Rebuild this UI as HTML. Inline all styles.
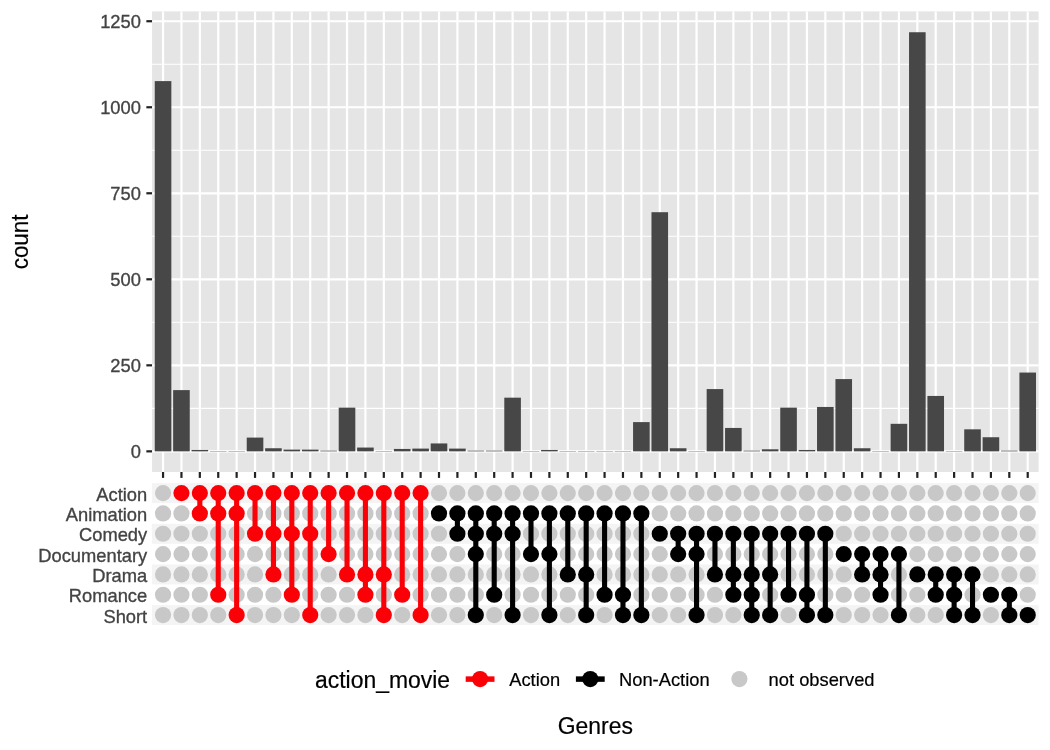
<!DOCTYPE html>
<html lang="en"><head><meta charset="utf-8"><title>Genres</title>
<style>html,body{margin:0;padding:0;background:#fff}svg{display:block}text{font-family:"Liberation Sans",Arial,Helvetica,sans-serif}</style></head><body>
<svg width="1050" height="750" viewBox="0 0 1050 750">
<rect width="1050" height="750" fill="#fff"/>
<rect x="152.05" y="11.4" width="886.55" height="460.6" fill="#E5E5E5"/>
<g stroke="#FFFFFF" stroke-width="1.1">
<line x1="152.05" x2="1038.6" y1="408.34" y2="408.34"/>
<line x1="152.05" x2="1038.6" y1="322.31" y2="322.31"/>
<line x1="152.05" x2="1038.6" y1="236.29" y2="236.29"/>
<line x1="152.05" x2="1038.6" y1="150.26" y2="150.26"/>
<line x1="152.05" x2="1038.6" y1="64.24" y2="64.24"/>
</g>
<g stroke="#FFFFFF" stroke-width="2.2">
<line x1="152.05" x2="1038.6" y1="451.35" y2="451.35"/>
<line x1="152.05" x2="1038.6" y1="365.33" y2="365.33"/>
<line x1="152.05" x2="1038.6" y1="279.3" y2="279.3"/>
<line x1="152.05" x2="1038.6" y1="193.28" y2="193.28"/>
<line x1="152.05" x2="1038.6" y1="107.25" y2="107.25"/>
<line x1="152.05" x2="1038.6" y1="21.23" y2="21.23"/>
<line x1="163.05" x2="163.05" y1="11.4" y2="472"/>
<line x1="181.45" x2="181.45" y1="11.4" y2="472"/>
<line x1="199.84" x2="199.84" y1="11.4" y2="472"/>
<line x1="218.24" x2="218.24" y1="11.4" y2="472"/>
<line x1="236.64" x2="236.64" y1="11.4" y2="472"/>
<line x1="255.03" x2="255.03" y1="11.4" y2="472"/>
<line x1="273.43" x2="273.43" y1="11.4" y2="472"/>
<line x1="291.83" x2="291.83" y1="11.4" y2="472"/>
<line x1="310.23" x2="310.23" y1="11.4" y2="472"/>
<line x1="328.62" x2="328.62" y1="11.4" y2="472"/>
<line x1="347.02" x2="347.02" y1="11.4" y2="472"/>
<line x1="365.42" x2="365.42" y1="11.4" y2="472"/>
<line x1="383.81" x2="383.81" y1="11.4" y2="472"/>
<line x1="402.21" x2="402.21" y1="11.4" y2="472"/>
<line x1="420.61" x2="420.61" y1="11.4" y2="472"/>
<line x1="439" x2="439" y1="11.4" y2="472"/>
<line x1="457.4" x2="457.4" y1="11.4" y2="472"/>
<line x1="475.8" x2="475.8" y1="11.4" y2="472"/>
<line x1="494.2" x2="494.2" y1="11.4" y2="472"/>
<line x1="512.59" x2="512.59" y1="11.4" y2="472"/>
<line x1="530.99" x2="530.99" y1="11.4" y2="472"/>
<line x1="549.39" x2="549.39" y1="11.4" y2="472"/>
<line x1="567.78" x2="567.78" y1="11.4" y2="472"/>
<line x1="586.18" x2="586.18" y1="11.4" y2="472"/>
<line x1="604.58" x2="604.58" y1="11.4" y2="472"/>
<line x1="622.97" x2="622.97" y1="11.4" y2="472"/>
<line x1="641.37" x2="641.37" y1="11.4" y2="472"/>
<line x1="659.77" x2="659.77" y1="11.4" y2="472"/>
<line x1="678.17" x2="678.17" y1="11.4" y2="472"/>
<line x1="696.56" x2="696.56" y1="11.4" y2="472"/>
<line x1="714.96" x2="714.96" y1="11.4" y2="472"/>
<line x1="733.36" x2="733.36" y1="11.4" y2="472"/>
<line x1="751.75" x2="751.75" y1="11.4" y2="472"/>
<line x1="770.15" x2="770.15" y1="11.4" y2="472"/>
<line x1="788.55" x2="788.55" y1="11.4" y2="472"/>
<line x1="806.94" x2="806.94" y1="11.4" y2="472"/>
<line x1="825.34" x2="825.34" y1="11.4" y2="472"/>
<line x1="843.74" x2="843.74" y1="11.4" y2="472"/>
<line x1="862.14" x2="862.14" y1="11.4" y2="472"/>
<line x1="880.53" x2="880.53" y1="11.4" y2="472"/>
<line x1="898.93" x2="898.93" y1="11.4" y2="472"/>
<line x1="917.33" x2="917.33" y1="11.4" y2="472"/>
<line x1="935.72" x2="935.72" y1="11.4" y2="472"/>
<line x1="954.12" x2="954.12" y1="11.4" y2="472"/>
<line x1="972.52" x2="972.52" y1="11.4" y2="472"/>
<line x1="990.91" x2="990.91" y1="11.4" y2="472"/>
<line x1="1009.31" x2="1009.31" y1="11.4" y2="472"/>
<line x1="1027.71" x2="1027.71" y1="11.4" y2="472"/>
</g>
<g fill="#474747">
<rect x="154.75" y="81.1" width="16.6" height="370.25"/>
<rect x="173.15" y="390.1" width="16.6" height="61.25"/>
<rect x="191.54" y="449.97" width="16.6" height="1.38"/>
<rect x="209.94" y="451.01" width="16.6" height="0.34"/>
<rect x="228.34" y="451.01" width="16.6" height="0.34"/>
<rect x="246.73" y="437.59" width="16.6" height="13.76"/>
<rect x="265.13" y="448.25" width="16.6" height="3.1"/>
<rect x="283.53" y="449.63" width="16.6" height="1.72"/>
<rect x="301.93" y="449.63" width="16.6" height="1.72"/>
<rect x="320.32" y="450.66" width="16.6" height="0.69"/>
<rect x="338.72" y="407.65" width="16.6" height="43.7"/>
<rect x="357.12" y="447.56" width="16.6" height="3.79"/>
<rect x="375.51" y="451.01" width="16.6" height="0.34"/>
<rect x="393.91" y="448.94" width="16.6" height="2.41"/>
<rect x="412.31" y="448.6" width="16.6" height="2.75"/>
<rect x="430.7" y="443.44" width="16.6" height="7.91"/>
<rect x="449.1" y="448.6" width="16.6" height="2.75"/>
<rect x="467.5" y="450.66" width="16.6" height="0.69"/>
<rect x="485.9" y="450.66" width="16.6" height="0.69"/>
<rect x="504.29" y="397.67" width="16.6" height="53.68"/>
<rect x="522.69" y="451.01" width="16.6" height="0.34"/>
<rect x="541.09" y="449.97" width="16.6" height="1.38"/>
<rect x="559.48" y="451.01" width="16.6" height="0.34"/>
<rect x="577.88" y="451.01" width="16.6" height="0.34"/>
<rect x="596.28" y="451.01" width="16.6" height="0.34"/>
<rect x="614.67" y="451.01" width="16.6" height="0.34"/>
<rect x="633.07" y="422.1" width="16.6" height="29.25"/>
<rect x="651.47" y="212.2" width="16.6" height="239.15"/>
<rect x="669.87" y="448.25" width="16.6" height="3.1"/>
<rect x="688.26" y="451.01" width="16.6" height="0.34"/>
<rect x="706.66" y="389.07" width="16.6" height="62.28"/>
<rect x="725.06" y="427.95" width="16.6" height="23.4"/>
<rect x="743.45" y="450.66" width="16.6" height="0.69"/>
<rect x="761.85" y="449.29" width="16.6" height="2.06"/>
<rect x="780.25" y="407.65" width="16.6" height="43.7"/>
<rect x="798.64" y="449.97" width="16.6" height="1.38"/>
<rect x="817.04" y="406.96" width="16.6" height="44.39"/>
<rect x="835.44" y="379.09" width="16.6" height="72.26"/>
<rect x="853.84" y="448.25" width="16.6" height="3.1"/>
<rect x="872.23" y="451.01" width="16.6" height="0.34"/>
<rect x="890.63" y="423.82" width="16.6" height="27.53"/>
<rect x="909.03" y="32.24" width="16.6" height="419.11"/>
<rect x="927.42" y="395.95" width="16.6" height="55.4"/>
<rect x="945.82" y="451.01" width="16.6" height="0.34"/>
<rect x="964.22" y="429.33" width="16.6" height="22.02"/>
<rect x="982.62" y="437.24" width="16.6" height="14.11"/>
<rect x="1001.01" y="450.66" width="16.6" height="0.69"/>
<rect x="1019.41" y="372.55" width="16.6" height="78.8"/>
</g>
<g stroke="#222222" stroke-width="2.2">
<line x1="146.35" x2="152.05" y1="451.35" y2="451.35"/>
<line x1="146.35" x2="152.05" y1="365.33" y2="365.33"/>
<line x1="146.35" x2="152.05" y1="279.3" y2="279.3"/>
<line x1="146.35" x2="152.05" y1="193.28" y2="193.28"/>
<line x1="146.35" x2="152.05" y1="107.25" y2="107.25"/>
<line x1="146.35" x2="152.05" y1="21.23" y2="21.23"/>
<line x1="163.05" x2="163.05" y1="472" y2="477.9"/>
<line x1="181.45" x2="181.45" y1="472" y2="477.9"/>
<line x1="199.84" x2="199.84" y1="472" y2="477.9"/>
<line x1="218.24" x2="218.24" y1="472" y2="477.9"/>
<line x1="236.64" x2="236.64" y1="472" y2="477.9"/>
<line x1="255.03" x2="255.03" y1="472" y2="477.9"/>
<line x1="273.43" x2="273.43" y1="472" y2="477.9"/>
<line x1="291.83" x2="291.83" y1="472" y2="477.9"/>
<line x1="310.23" x2="310.23" y1="472" y2="477.9"/>
<line x1="328.62" x2="328.62" y1="472" y2="477.9"/>
<line x1="347.02" x2="347.02" y1="472" y2="477.9"/>
<line x1="365.42" x2="365.42" y1="472" y2="477.9"/>
<line x1="383.81" x2="383.81" y1="472" y2="477.9"/>
<line x1="402.21" x2="402.21" y1="472" y2="477.9"/>
<line x1="420.61" x2="420.61" y1="472" y2="477.9"/>
<line x1="439" x2="439" y1="472" y2="477.9"/>
<line x1="457.4" x2="457.4" y1="472" y2="477.9"/>
<line x1="475.8" x2="475.8" y1="472" y2="477.9"/>
<line x1="494.2" x2="494.2" y1="472" y2="477.9"/>
<line x1="512.59" x2="512.59" y1="472" y2="477.9"/>
<line x1="530.99" x2="530.99" y1="472" y2="477.9"/>
<line x1="549.39" x2="549.39" y1="472" y2="477.9"/>
<line x1="567.78" x2="567.78" y1="472" y2="477.9"/>
<line x1="586.18" x2="586.18" y1="472" y2="477.9"/>
<line x1="604.58" x2="604.58" y1="472" y2="477.9"/>
<line x1="622.97" x2="622.97" y1="472" y2="477.9"/>
<line x1="641.37" x2="641.37" y1="472" y2="477.9"/>
<line x1="659.77" x2="659.77" y1="472" y2="477.9"/>
<line x1="678.17" x2="678.17" y1="472" y2="477.9"/>
<line x1="696.56" x2="696.56" y1="472" y2="477.9"/>
<line x1="714.96" x2="714.96" y1="472" y2="477.9"/>
<line x1="733.36" x2="733.36" y1="472" y2="477.9"/>
<line x1="751.75" x2="751.75" y1="472" y2="477.9"/>
<line x1="770.15" x2="770.15" y1="472" y2="477.9"/>
<line x1="788.55" x2="788.55" y1="472" y2="477.9"/>
<line x1="806.94" x2="806.94" y1="472" y2="477.9"/>
<line x1="825.34" x2="825.34" y1="472" y2="477.9"/>
<line x1="843.74" x2="843.74" y1="472" y2="477.9"/>
<line x1="862.14" x2="862.14" y1="472" y2="477.9"/>
<line x1="880.53" x2="880.53" y1="472" y2="477.9"/>
<line x1="898.93" x2="898.93" y1="472" y2="477.9"/>
<line x1="917.33" x2="917.33" y1="472" y2="477.9"/>
<line x1="935.72" x2="935.72" y1="472" y2="477.9"/>
<line x1="954.12" x2="954.12" y1="472" y2="477.9"/>
<line x1="972.52" x2="972.52" y1="472" y2="477.9"/>
<line x1="990.91" x2="990.91" y1="472" y2="477.9"/>
<line x1="1009.31" x2="1009.31" y1="472" y2="477.9"/>
<line x1="1027.71" x2="1027.71" y1="472" y2="477.9"/>
</g>
<g fill="#434343" stroke="#434343" stroke-width="0.32" font-size="18.33" text-anchor="end">
<text transform="translate(140.9,457.95) scale(1,1.045)">0</text>
<text transform="translate(140.9,371.93) scale(1,1.045)">250</text>
<text transform="translate(140.9,285.9) scale(1,1.045)">500</text>
<text transform="translate(140.9,199.88) scale(1,1.045)">750</text>
<text transform="translate(140.9,113.85) scale(1,1.045)">1000</text>
<text transform="translate(140.9,27.83) scale(1,1.045)">1250</text>
<text transform="translate(147.2,500.51) scale(1,1.045)">Action</text>
<text transform="translate(147.2,520.84) scale(1,1.045)">Animation</text>
<text transform="translate(147.2,541.17) scale(1,1.045)">Comedy</text>
<text transform="translate(147.2,561.5) scale(1,1.045)">Documentary</text>
<text transform="translate(147.2,581.83) scale(1,1.045)">Drama</text>
<text transform="translate(147.2,602.16) scale(1,1.045)">Romance</text>
<text transform="translate(147.2,622.5) scale(1,1.045)">Short</text>
</g>
<text transform="translate(28,241.9) rotate(-90) scale(0.977,1.045)" font-size="22.92" text-anchor="middle" fill="#000" stroke="#000" stroke-width="0.2">count</text>
<text transform="translate(595.3,733.9) scale(1,1.045)" font-size="22.92" text-anchor="middle" fill="#000" stroke="#000" stroke-width="0.2">Genres</text>
<g fill="#F4F4F4">
<rect x="152.05" y="483.12" width="886.55" height="20"/>
<rect x="152.05" y="523.77" width="886.55" height="20"/>
<rect x="152.05" y="564.43" width="886.55" height="20"/>
<rect x="152.05" y="605.1" width="886.55" height="20"/>
</g>
<g fill="#C8C8C8">
<circle cx="163.05" cy="493.12" r="8.1"/>
<circle cx="163.05" cy="513.44" r="8.1"/>
<circle cx="163.05" cy="533.77" r="8.1"/>
<circle cx="163.05" cy="554.11" r="8.1"/>
<circle cx="163.05" cy="574.43" r="8.1"/>
<circle cx="163.05" cy="594.76" r="8.1"/>
<circle cx="163.05" cy="615.1" r="8.1"/>
<circle cx="181.45" cy="513.44" r="8.1"/>
<circle cx="181.45" cy="533.77" r="8.1"/>
<circle cx="181.45" cy="554.11" r="8.1"/>
<circle cx="181.45" cy="574.43" r="8.1"/>
<circle cx="181.45" cy="594.76" r="8.1"/>
<circle cx="181.45" cy="615.1" r="8.1"/>
<circle cx="199.84" cy="533.77" r="8.1"/>
<circle cx="199.84" cy="554.11" r="8.1"/>
<circle cx="199.84" cy="574.43" r="8.1"/>
<circle cx="199.84" cy="594.76" r="8.1"/>
<circle cx="199.84" cy="615.1" r="8.1"/>
<circle cx="218.24" cy="533.77" r="8.1"/>
<circle cx="218.24" cy="554.11" r="8.1"/>
<circle cx="218.24" cy="574.43" r="8.1"/>
<circle cx="218.24" cy="615.1" r="8.1"/>
<circle cx="236.64" cy="533.77" r="8.1"/>
<circle cx="236.64" cy="554.11" r="8.1"/>
<circle cx="236.64" cy="574.43" r="8.1"/>
<circle cx="236.64" cy="594.76" r="8.1"/>
<circle cx="255.03" cy="513.44" r="8.1"/>
<circle cx="255.03" cy="554.11" r="8.1"/>
<circle cx="255.03" cy="574.43" r="8.1"/>
<circle cx="255.03" cy="594.76" r="8.1"/>
<circle cx="255.03" cy="615.1" r="8.1"/>
<circle cx="273.43" cy="513.44" r="8.1"/>
<circle cx="273.43" cy="554.11" r="8.1"/>
<circle cx="273.43" cy="594.76" r="8.1"/>
<circle cx="273.43" cy="615.1" r="8.1"/>
<circle cx="291.83" cy="513.44" r="8.1"/>
<circle cx="291.83" cy="554.11" r="8.1"/>
<circle cx="291.83" cy="574.43" r="8.1"/>
<circle cx="291.83" cy="615.1" r="8.1"/>
<circle cx="310.23" cy="513.44" r="8.1"/>
<circle cx="310.23" cy="554.11" r="8.1"/>
<circle cx="310.23" cy="574.43" r="8.1"/>
<circle cx="310.23" cy="594.76" r="8.1"/>
<circle cx="328.62" cy="513.44" r="8.1"/>
<circle cx="328.62" cy="533.77" r="8.1"/>
<circle cx="328.62" cy="574.43" r="8.1"/>
<circle cx="328.62" cy="594.76" r="8.1"/>
<circle cx="328.62" cy="615.1" r="8.1"/>
<circle cx="347.02" cy="513.44" r="8.1"/>
<circle cx="347.02" cy="533.77" r="8.1"/>
<circle cx="347.02" cy="554.11" r="8.1"/>
<circle cx="347.02" cy="594.76" r="8.1"/>
<circle cx="347.02" cy="615.1" r="8.1"/>
<circle cx="365.42" cy="513.44" r="8.1"/>
<circle cx="365.42" cy="533.77" r="8.1"/>
<circle cx="365.42" cy="554.11" r="8.1"/>
<circle cx="365.42" cy="615.1" r="8.1"/>
<circle cx="383.81" cy="513.44" r="8.1"/>
<circle cx="383.81" cy="533.77" r="8.1"/>
<circle cx="383.81" cy="554.11" r="8.1"/>
<circle cx="383.81" cy="594.76" r="8.1"/>
<circle cx="402.21" cy="513.44" r="8.1"/>
<circle cx="402.21" cy="533.77" r="8.1"/>
<circle cx="402.21" cy="554.11" r="8.1"/>
<circle cx="402.21" cy="574.43" r="8.1"/>
<circle cx="402.21" cy="615.1" r="8.1"/>
<circle cx="420.61" cy="513.44" r="8.1"/>
<circle cx="420.61" cy="533.77" r="8.1"/>
<circle cx="420.61" cy="554.11" r="8.1"/>
<circle cx="420.61" cy="574.43" r="8.1"/>
<circle cx="420.61" cy="594.76" r="8.1"/>
<circle cx="439" cy="493.12" r="8.1"/>
<circle cx="439" cy="533.77" r="8.1"/>
<circle cx="439" cy="554.11" r="8.1"/>
<circle cx="439" cy="574.43" r="8.1"/>
<circle cx="439" cy="594.76" r="8.1"/>
<circle cx="439" cy="615.1" r="8.1"/>
<circle cx="457.4" cy="493.12" r="8.1"/>
<circle cx="457.4" cy="554.11" r="8.1"/>
<circle cx="457.4" cy="574.43" r="8.1"/>
<circle cx="457.4" cy="594.76" r="8.1"/>
<circle cx="457.4" cy="615.1" r="8.1"/>
<circle cx="475.8" cy="493.12" r="8.1"/>
<circle cx="475.8" cy="574.43" r="8.1"/>
<circle cx="475.8" cy="594.76" r="8.1"/>
<circle cx="494.2" cy="493.12" r="8.1"/>
<circle cx="494.2" cy="554.11" r="8.1"/>
<circle cx="494.2" cy="574.43" r="8.1"/>
<circle cx="494.2" cy="615.1" r="8.1"/>
<circle cx="512.59" cy="493.12" r="8.1"/>
<circle cx="512.59" cy="554.11" r="8.1"/>
<circle cx="512.59" cy="574.43" r="8.1"/>
<circle cx="512.59" cy="594.76" r="8.1"/>
<circle cx="530.99" cy="493.12" r="8.1"/>
<circle cx="530.99" cy="533.77" r="8.1"/>
<circle cx="530.99" cy="574.43" r="8.1"/>
<circle cx="530.99" cy="594.76" r="8.1"/>
<circle cx="530.99" cy="615.1" r="8.1"/>
<circle cx="549.39" cy="493.12" r="8.1"/>
<circle cx="549.39" cy="533.77" r="8.1"/>
<circle cx="549.39" cy="574.43" r="8.1"/>
<circle cx="549.39" cy="594.76" r="8.1"/>
<circle cx="567.78" cy="493.12" r="8.1"/>
<circle cx="567.78" cy="533.77" r="8.1"/>
<circle cx="567.78" cy="554.11" r="8.1"/>
<circle cx="567.78" cy="594.76" r="8.1"/>
<circle cx="567.78" cy="615.1" r="8.1"/>
<circle cx="586.18" cy="493.12" r="8.1"/>
<circle cx="586.18" cy="533.77" r="8.1"/>
<circle cx="586.18" cy="554.11" r="8.1"/>
<circle cx="586.18" cy="594.76" r="8.1"/>
<circle cx="604.58" cy="493.12" r="8.1"/>
<circle cx="604.58" cy="533.77" r="8.1"/>
<circle cx="604.58" cy="554.11" r="8.1"/>
<circle cx="604.58" cy="574.43" r="8.1"/>
<circle cx="604.58" cy="615.1" r="8.1"/>
<circle cx="622.97" cy="493.12" r="8.1"/>
<circle cx="622.97" cy="533.77" r="8.1"/>
<circle cx="622.97" cy="554.11" r="8.1"/>
<circle cx="622.97" cy="574.43" r="8.1"/>
<circle cx="641.37" cy="493.12" r="8.1"/>
<circle cx="641.37" cy="533.77" r="8.1"/>
<circle cx="641.37" cy="554.11" r="8.1"/>
<circle cx="641.37" cy="574.43" r="8.1"/>
<circle cx="641.37" cy="594.76" r="8.1"/>
<circle cx="659.77" cy="493.12" r="8.1"/>
<circle cx="659.77" cy="513.44" r="8.1"/>
<circle cx="659.77" cy="554.11" r="8.1"/>
<circle cx="659.77" cy="574.43" r="8.1"/>
<circle cx="659.77" cy="594.76" r="8.1"/>
<circle cx="659.77" cy="615.1" r="8.1"/>
<circle cx="678.17" cy="493.12" r="8.1"/>
<circle cx="678.17" cy="513.44" r="8.1"/>
<circle cx="678.17" cy="574.43" r="8.1"/>
<circle cx="678.17" cy="594.76" r="8.1"/>
<circle cx="678.17" cy="615.1" r="8.1"/>
<circle cx="696.56" cy="493.12" r="8.1"/>
<circle cx="696.56" cy="513.44" r="8.1"/>
<circle cx="696.56" cy="574.43" r="8.1"/>
<circle cx="696.56" cy="594.76" r="8.1"/>
<circle cx="714.96" cy="493.12" r="8.1"/>
<circle cx="714.96" cy="513.44" r="8.1"/>
<circle cx="714.96" cy="554.11" r="8.1"/>
<circle cx="714.96" cy="594.76" r="8.1"/>
<circle cx="714.96" cy="615.1" r="8.1"/>
<circle cx="733.36" cy="493.12" r="8.1"/>
<circle cx="733.36" cy="513.44" r="8.1"/>
<circle cx="733.36" cy="554.11" r="8.1"/>
<circle cx="733.36" cy="615.1" r="8.1"/>
<circle cx="751.75" cy="493.12" r="8.1"/>
<circle cx="751.75" cy="513.44" r="8.1"/>
<circle cx="751.75" cy="554.11" r="8.1"/>
<circle cx="770.15" cy="493.12" r="8.1"/>
<circle cx="770.15" cy="513.44" r="8.1"/>
<circle cx="770.15" cy="554.11" r="8.1"/>
<circle cx="770.15" cy="594.76" r="8.1"/>
<circle cx="788.55" cy="493.12" r="8.1"/>
<circle cx="788.55" cy="513.44" r="8.1"/>
<circle cx="788.55" cy="554.11" r="8.1"/>
<circle cx="788.55" cy="574.43" r="8.1"/>
<circle cx="788.55" cy="615.1" r="8.1"/>
<circle cx="806.94" cy="493.12" r="8.1"/>
<circle cx="806.94" cy="513.44" r="8.1"/>
<circle cx="806.94" cy="554.11" r="8.1"/>
<circle cx="806.94" cy="574.43" r="8.1"/>
<circle cx="825.34" cy="493.12" r="8.1"/>
<circle cx="825.34" cy="513.44" r="8.1"/>
<circle cx="825.34" cy="554.11" r="8.1"/>
<circle cx="825.34" cy="574.43" r="8.1"/>
<circle cx="825.34" cy="594.76" r="8.1"/>
<circle cx="843.74" cy="493.12" r="8.1"/>
<circle cx="843.74" cy="513.44" r="8.1"/>
<circle cx="843.74" cy="533.77" r="8.1"/>
<circle cx="843.74" cy="574.43" r="8.1"/>
<circle cx="843.74" cy="594.76" r="8.1"/>
<circle cx="843.74" cy="615.1" r="8.1"/>
<circle cx="862.14" cy="493.12" r="8.1"/>
<circle cx="862.14" cy="513.44" r="8.1"/>
<circle cx="862.14" cy="533.77" r="8.1"/>
<circle cx="862.14" cy="594.76" r="8.1"/>
<circle cx="862.14" cy="615.1" r="8.1"/>
<circle cx="880.53" cy="493.12" r="8.1"/>
<circle cx="880.53" cy="513.44" r="8.1"/>
<circle cx="880.53" cy="533.77" r="8.1"/>
<circle cx="880.53" cy="615.1" r="8.1"/>
<circle cx="898.93" cy="493.12" r="8.1"/>
<circle cx="898.93" cy="513.44" r="8.1"/>
<circle cx="898.93" cy="533.77" r="8.1"/>
<circle cx="898.93" cy="574.43" r="8.1"/>
<circle cx="898.93" cy="594.76" r="8.1"/>
<circle cx="917.33" cy="493.12" r="8.1"/>
<circle cx="917.33" cy="513.44" r="8.1"/>
<circle cx="917.33" cy="533.77" r="8.1"/>
<circle cx="917.33" cy="554.11" r="8.1"/>
<circle cx="917.33" cy="594.76" r="8.1"/>
<circle cx="917.33" cy="615.1" r="8.1"/>
<circle cx="935.72" cy="493.12" r="8.1"/>
<circle cx="935.72" cy="513.44" r="8.1"/>
<circle cx="935.72" cy="533.77" r="8.1"/>
<circle cx="935.72" cy="554.11" r="8.1"/>
<circle cx="935.72" cy="615.1" r="8.1"/>
<circle cx="954.12" cy="493.12" r="8.1"/>
<circle cx="954.12" cy="513.44" r="8.1"/>
<circle cx="954.12" cy="533.77" r="8.1"/>
<circle cx="954.12" cy="554.11" r="8.1"/>
<circle cx="972.52" cy="493.12" r="8.1"/>
<circle cx="972.52" cy="513.44" r="8.1"/>
<circle cx="972.52" cy="533.77" r="8.1"/>
<circle cx="972.52" cy="554.11" r="8.1"/>
<circle cx="972.52" cy="594.76" r="8.1"/>
<circle cx="990.91" cy="493.12" r="8.1"/>
<circle cx="990.91" cy="513.44" r="8.1"/>
<circle cx="990.91" cy="533.77" r="8.1"/>
<circle cx="990.91" cy="554.11" r="8.1"/>
<circle cx="990.91" cy="574.43" r="8.1"/>
<circle cx="990.91" cy="615.1" r="8.1"/>
<circle cx="1009.31" cy="493.12" r="8.1"/>
<circle cx="1009.31" cy="513.44" r="8.1"/>
<circle cx="1009.31" cy="533.77" r="8.1"/>
<circle cx="1009.31" cy="554.11" r="8.1"/>
<circle cx="1009.31" cy="574.43" r="8.1"/>
<circle cx="1027.71" cy="493.12" r="8.1"/>
<circle cx="1027.71" cy="513.44" r="8.1"/>
<circle cx="1027.71" cy="533.77" r="8.1"/>
<circle cx="1027.71" cy="554.11" r="8.1"/>
<circle cx="1027.71" cy="574.43" r="8.1"/>
<circle cx="1027.71" cy="594.76" r="8.1"/>
</g>
<g fill="#FA0007" stroke="#FA0007" stroke-width="5.1">
<circle cx="181.45" cy="493.12" r="8.1" stroke="none"/>
<line x1="199.84" x2="199.84" y1="493.12" y2="513.44"/>
<circle cx="199.84" cy="493.12" r="8.1" stroke="none"/>
<circle cx="199.84" cy="513.44" r="8.1" stroke="none"/>
<line x1="218.24" x2="218.24" y1="493.12" y2="594.76"/>
<circle cx="218.24" cy="493.12" r="8.1" stroke="none"/>
<circle cx="218.24" cy="513.44" r="8.1" stroke="none"/>
<circle cx="218.24" cy="594.76" r="8.1" stroke="none"/>
<line x1="236.64" x2="236.64" y1="493.12" y2="615.1"/>
<circle cx="236.64" cy="493.12" r="8.1" stroke="none"/>
<circle cx="236.64" cy="513.44" r="8.1" stroke="none"/>
<circle cx="236.64" cy="615.1" r="8.1" stroke="none"/>
<line x1="255.03" x2="255.03" y1="493.12" y2="533.77"/>
<circle cx="255.03" cy="493.12" r="8.1" stroke="none"/>
<circle cx="255.03" cy="533.77" r="8.1" stroke="none"/>
<line x1="273.43" x2="273.43" y1="493.12" y2="574.43"/>
<circle cx="273.43" cy="493.12" r="8.1" stroke="none"/>
<circle cx="273.43" cy="533.77" r="8.1" stroke="none"/>
<circle cx="273.43" cy="574.43" r="8.1" stroke="none"/>
<line x1="291.83" x2="291.83" y1="493.12" y2="594.76"/>
<circle cx="291.83" cy="493.12" r="8.1" stroke="none"/>
<circle cx="291.83" cy="533.77" r="8.1" stroke="none"/>
<circle cx="291.83" cy="594.76" r="8.1" stroke="none"/>
<line x1="310.23" x2="310.23" y1="493.12" y2="615.1"/>
<circle cx="310.23" cy="493.12" r="8.1" stroke="none"/>
<circle cx="310.23" cy="533.77" r="8.1" stroke="none"/>
<circle cx="310.23" cy="615.1" r="8.1" stroke="none"/>
<line x1="328.62" x2="328.62" y1="493.12" y2="554.11"/>
<circle cx="328.62" cy="493.12" r="8.1" stroke="none"/>
<circle cx="328.62" cy="554.11" r="8.1" stroke="none"/>
<line x1="347.02" x2="347.02" y1="493.12" y2="574.43"/>
<circle cx="347.02" cy="493.12" r="8.1" stroke="none"/>
<circle cx="347.02" cy="574.43" r="8.1" stroke="none"/>
<line x1="365.42" x2="365.42" y1="493.12" y2="594.76"/>
<circle cx="365.42" cy="493.12" r="8.1" stroke="none"/>
<circle cx="365.42" cy="574.43" r="8.1" stroke="none"/>
<circle cx="365.42" cy="594.76" r="8.1" stroke="none"/>
<line x1="383.81" x2="383.81" y1="493.12" y2="615.1"/>
<circle cx="383.81" cy="493.12" r="8.1" stroke="none"/>
<circle cx="383.81" cy="574.43" r="8.1" stroke="none"/>
<circle cx="383.81" cy="615.1" r="8.1" stroke="none"/>
<line x1="402.21" x2="402.21" y1="493.12" y2="594.76"/>
<circle cx="402.21" cy="493.12" r="8.1" stroke="none"/>
<circle cx="402.21" cy="594.76" r="8.1" stroke="none"/>
<line x1="420.61" x2="420.61" y1="493.12" y2="615.1"/>
<circle cx="420.61" cy="493.12" r="8.1" stroke="none"/>
<circle cx="420.61" cy="615.1" r="8.1" stroke="none"/>
</g>
<g fill="#000000" stroke="#000000" stroke-width="5.1">
<circle cx="439" cy="513.44" r="8.1" stroke="none"/>
<line x1="457.4" x2="457.4" y1="513.44" y2="533.77"/>
<circle cx="457.4" cy="513.44" r="8.1" stroke="none"/>
<circle cx="457.4" cy="533.77" r="8.1" stroke="none"/>
<line x1="475.8" x2="475.8" y1="513.44" y2="615.1"/>
<circle cx="475.8" cy="513.44" r="8.1" stroke="none"/>
<circle cx="475.8" cy="533.77" r="8.1" stroke="none"/>
<circle cx="475.8" cy="554.11" r="8.1" stroke="none"/>
<circle cx="475.8" cy="615.1" r="8.1" stroke="none"/>
<line x1="494.2" x2="494.2" y1="513.44" y2="594.76"/>
<circle cx="494.2" cy="513.44" r="8.1" stroke="none"/>
<circle cx="494.2" cy="533.77" r="8.1" stroke="none"/>
<circle cx="494.2" cy="594.76" r="8.1" stroke="none"/>
<line x1="512.59" x2="512.59" y1="513.44" y2="615.1"/>
<circle cx="512.59" cy="513.44" r="8.1" stroke="none"/>
<circle cx="512.59" cy="533.77" r="8.1" stroke="none"/>
<circle cx="512.59" cy="615.1" r="8.1" stroke="none"/>
<line x1="530.99" x2="530.99" y1="513.44" y2="554.11"/>
<circle cx="530.99" cy="513.44" r="8.1" stroke="none"/>
<circle cx="530.99" cy="554.11" r="8.1" stroke="none"/>
<line x1="549.39" x2="549.39" y1="513.44" y2="615.1"/>
<circle cx="549.39" cy="513.44" r="8.1" stroke="none"/>
<circle cx="549.39" cy="554.11" r="8.1" stroke="none"/>
<circle cx="549.39" cy="615.1" r="8.1" stroke="none"/>
<line x1="567.78" x2="567.78" y1="513.44" y2="574.43"/>
<circle cx="567.78" cy="513.44" r="8.1" stroke="none"/>
<circle cx="567.78" cy="574.43" r="8.1" stroke="none"/>
<line x1="586.18" x2="586.18" y1="513.44" y2="615.1"/>
<circle cx="586.18" cy="513.44" r="8.1" stroke="none"/>
<circle cx="586.18" cy="574.43" r="8.1" stroke="none"/>
<circle cx="586.18" cy="615.1" r="8.1" stroke="none"/>
<line x1="604.58" x2="604.58" y1="513.44" y2="594.76"/>
<circle cx="604.58" cy="513.44" r="8.1" stroke="none"/>
<circle cx="604.58" cy="594.76" r="8.1" stroke="none"/>
<line x1="622.97" x2="622.97" y1="513.44" y2="615.1"/>
<circle cx="622.97" cy="513.44" r="8.1" stroke="none"/>
<circle cx="622.97" cy="594.76" r="8.1" stroke="none"/>
<circle cx="622.97" cy="615.1" r="8.1" stroke="none"/>
<line x1="641.37" x2="641.37" y1="513.44" y2="615.1"/>
<circle cx="641.37" cy="513.44" r="8.1" stroke="none"/>
<circle cx="641.37" cy="615.1" r="8.1" stroke="none"/>
<circle cx="659.77" cy="533.77" r="8.1" stroke="none"/>
<line x1="678.17" x2="678.17" y1="533.77" y2="554.11"/>
<circle cx="678.17" cy="533.77" r="8.1" stroke="none"/>
<circle cx="678.17" cy="554.11" r="8.1" stroke="none"/>
<line x1="696.56" x2="696.56" y1="533.77" y2="615.1"/>
<circle cx="696.56" cy="533.77" r="8.1" stroke="none"/>
<circle cx="696.56" cy="554.11" r="8.1" stroke="none"/>
<circle cx="696.56" cy="615.1" r="8.1" stroke="none"/>
<line x1="714.96" x2="714.96" y1="533.77" y2="574.43"/>
<circle cx="714.96" cy="533.77" r="8.1" stroke="none"/>
<circle cx="714.96" cy="574.43" r="8.1" stroke="none"/>
<line x1="733.36" x2="733.36" y1="533.77" y2="594.76"/>
<circle cx="733.36" cy="533.77" r="8.1" stroke="none"/>
<circle cx="733.36" cy="574.43" r="8.1" stroke="none"/>
<circle cx="733.36" cy="594.76" r="8.1" stroke="none"/>
<line x1="751.75" x2="751.75" y1="533.77" y2="615.1"/>
<circle cx="751.75" cy="533.77" r="8.1" stroke="none"/>
<circle cx="751.75" cy="574.43" r="8.1" stroke="none"/>
<circle cx="751.75" cy="594.76" r="8.1" stroke="none"/>
<circle cx="751.75" cy="615.1" r="8.1" stroke="none"/>
<line x1="770.15" x2="770.15" y1="533.77" y2="615.1"/>
<circle cx="770.15" cy="533.77" r="8.1" stroke="none"/>
<circle cx="770.15" cy="574.43" r="8.1" stroke="none"/>
<circle cx="770.15" cy="615.1" r="8.1" stroke="none"/>
<line x1="788.55" x2="788.55" y1="533.77" y2="594.76"/>
<circle cx="788.55" cy="533.77" r="8.1" stroke="none"/>
<circle cx="788.55" cy="594.76" r="8.1" stroke="none"/>
<line x1="806.94" x2="806.94" y1="533.77" y2="615.1"/>
<circle cx="806.94" cy="533.77" r="8.1" stroke="none"/>
<circle cx="806.94" cy="594.76" r="8.1" stroke="none"/>
<circle cx="806.94" cy="615.1" r="8.1" stroke="none"/>
<line x1="825.34" x2="825.34" y1="533.77" y2="615.1"/>
<circle cx="825.34" cy="533.77" r="8.1" stroke="none"/>
<circle cx="825.34" cy="615.1" r="8.1" stroke="none"/>
<circle cx="843.74" cy="554.11" r="8.1" stroke="none"/>
<line x1="862.14" x2="862.14" y1="554.11" y2="574.43"/>
<circle cx="862.14" cy="554.11" r="8.1" stroke="none"/>
<circle cx="862.14" cy="574.43" r="8.1" stroke="none"/>
<line x1="880.53" x2="880.53" y1="554.11" y2="594.76"/>
<circle cx="880.53" cy="554.11" r="8.1" stroke="none"/>
<circle cx="880.53" cy="574.43" r="8.1" stroke="none"/>
<circle cx="880.53" cy="594.76" r="8.1" stroke="none"/>
<line x1="898.93" x2="898.93" y1="554.11" y2="615.1"/>
<circle cx="898.93" cy="554.11" r="8.1" stroke="none"/>
<circle cx="898.93" cy="615.1" r="8.1" stroke="none"/>
<circle cx="917.33" cy="574.43" r="8.1" stroke="none"/>
<line x1="935.72" x2="935.72" y1="574.43" y2="594.76"/>
<circle cx="935.72" cy="574.43" r="8.1" stroke="none"/>
<circle cx="935.72" cy="594.76" r="8.1" stroke="none"/>
<line x1="954.12" x2="954.12" y1="574.43" y2="615.1"/>
<circle cx="954.12" cy="574.43" r="8.1" stroke="none"/>
<circle cx="954.12" cy="594.76" r="8.1" stroke="none"/>
<circle cx="954.12" cy="615.1" r="8.1" stroke="none"/>
<line x1="972.52" x2="972.52" y1="574.43" y2="615.1"/>
<circle cx="972.52" cy="574.43" r="8.1" stroke="none"/>
<circle cx="972.52" cy="615.1" r="8.1" stroke="none"/>
<circle cx="990.91" cy="594.76" r="8.1" stroke="none"/>
<line x1="1009.31" x2="1009.31" y1="594.76" y2="615.1"/>
<circle cx="1009.31" cy="594.76" r="8.1" stroke="none"/>
<circle cx="1009.31" cy="615.1" r="8.1" stroke="none"/>
<circle cx="1027.71" cy="615.1" r="8.1" stroke="none"/>
</g>
<text transform="translate(315,687.6) scale(1,1.045)" font-size="22.92" fill="#000" stroke="#000" stroke-width="0.2">action_movie</text>
<line x1="465.7" x2="494.5" y1="679.1" y2="679.1" stroke="#FA0007" stroke-width="5.5"/><circle cx="480.1" cy="679.1" r="8.1" fill="#FA0007"/>
<line x1="575.9" x2="604.7" y1="679.1" y2="679.1" stroke="#000000" stroke-width="5.5"/><circle cx="590.3" cy="679.1" r="8.1" fill="#000000"/>
<circle cx="739.4" cy="679.1" r="8.1" fill="#C8C8C8"/>
<g font-size="18.33" fill="#000" stroke="#000" stroke-width="0.2">
<text transform="translate(509.2,686.2) scale(1,1.045)">Action</text>
<text transform="translate(619,686.2) scale(1,1.045)">Non-Action</text>
<text transform="translate(768.6,686.2) scale(1,1.045)">not observed</text>
</g>
</svg></body></html>
